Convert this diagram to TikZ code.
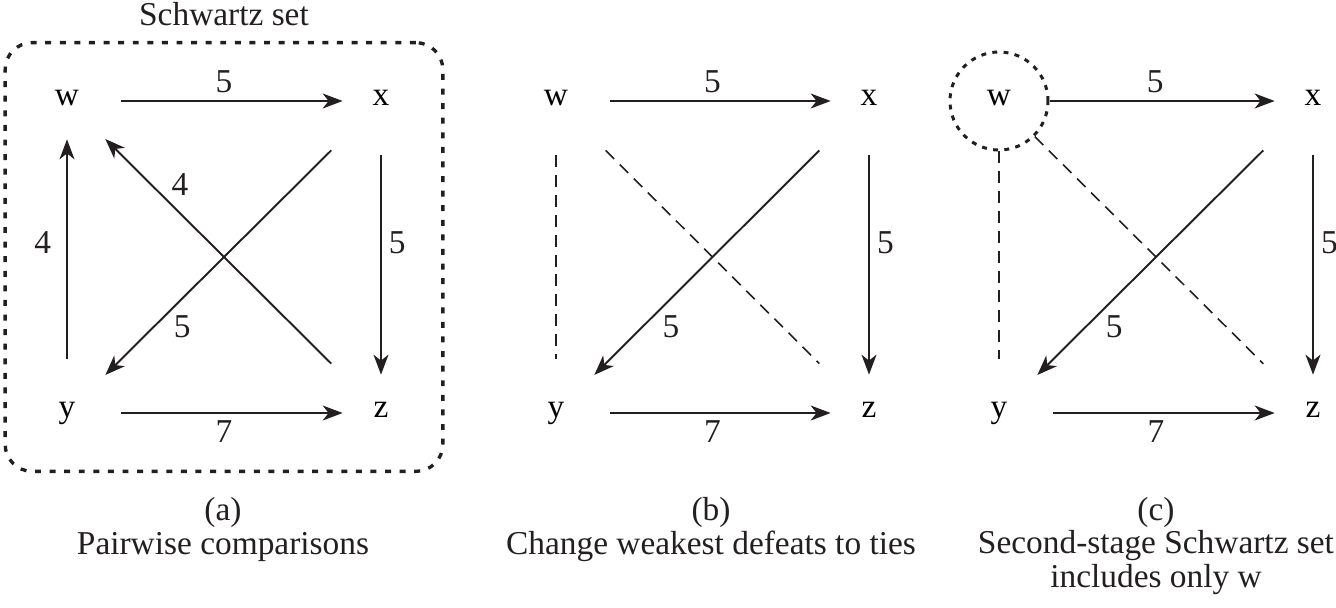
\documentclass[tikz,border=0pt]{standalone}
\usepackage{fontspec}
\setmainfont{Liberation Serif}
\usepackage{tikz}
\usetikzlibrary{arrows.meta,positioning,fit}
\definecolor{cink}{HTML}{231F20}
\tikzset{>={Stealth[length=0.4cm,width=0.3cm,inset=0.12cm]},
  vtx/.style={rectangle,minimum size=1.52cm,inner sep=0pt,text height=1ex,text depth=0pt},
  pick/.style={circle,draw=cink,line width=1.7pt,dash pattern=on 2.8pt off 3.6pt,minimum size=1.96cm},
  arr/.style={->,cink,line width=1.1pt,shorten <=0.32cm},
  tie/.style={cink,line width=0.9pt,dash pattern=on 6.8pt off 4.5pt,shorten <=0.32cm,shorten >=0.32cm},
  lbl/.style={inner sep=4pt,text=cink},
  setbox/.style={draw=cink,line width=1.9pt,dash pattern=on 3.4pt off 4.9pt,rounded corners=0.54cm},
  captxt/.style={align=center,anchor=base,text=cink}}
\begin{document}
\begin{tikzpicture}[font=\fontsize{19}{19}\selectfont]
\useasboundingbox (0,0) rectangle (26.72,12.14);
\def\yt{10.12} \def\yb{3.88}

% ================= (a) pairwise comparisons =================
\node[vtx] (wa) at (1.34,\yt) {w};
\node[vtx] (xa) at (7.62,\yt) {x};
\node[vtx] (ya) at (1.34,\yb) {y};
\node[vtx] (za) at (7.62,\yb) {z};
\draw[arr] (wa) -- node[lbl,above] {5} (xa);
\draw[arr] (xa) -- node[lbl,pos=.44,right] {5} (za);
\draw[arr] (ya) -- node[lbl,pos=.56,left=4.5pt] {4} (wa);
\draw[arr] (za) -- node[lbl,pos=.74,above right,inner sep=2pt] {4} (wa);
\draw[arr] (xa) -- node[lbl,pos=.73,below right,inner sep=2pt] {5} (ya);
\draw[arr] (ya) -- node[lbl,below] {7} (za);
\node[setbox,fit=(wa)(xa)(ya)(za),inner xsep=0.47cm,inner ysep=0.40cm,
  label={[label distance=0.17cm,text=cink]above:Schwartz set}] (sset) {};
\node[captxt] (capa) at (4.46,1.06) {(a)\\Pairwise comparisons};

% ================= (b) weakest defeats become ties =================
\node[vtx] (wb) at (11.12,\yt) {w};
\node[vtx] (xb) at (17.38,\yt) {x};
\node[vtx] (yb) at (11.12,\yb) {y};
\node[vtx] (zb) at (17.38,\yb) {z};
\draw[arr] (wb) -- node[lbl,above] {5} (xb);
\draw[arr] (xb) -- node[lbl,pos=.44,right] {5} (zb);
\draw[tie] (wb) -- (yb);
\draw[tie] (wb) -- (zb);
\draw[arr] (xb) -- node[lbl,pos=.73,below right,inner sep=2pt] {5} (yb);
\draw[arr] (yb) -- node[lbl,below] {7} (zb);
\node[captxt] (capb) at (14.22,1.06) {(b)\\Change weakest defeats to ties};

% ================= (c) second stage =================
\node[vtx,pick] (wc) at (19.98,\yt) {w};
\node[vtx] (xc) at (26.26,\yt) {x};
\node[vtx] (yc) at (19.98,\yb) {y};
\node[vtx] (zc) at (26.26,\yb) {z};
\draw[arr,shorten <=0pt] (wc) -- node[lbl,pos=.47,above] {5} (xc);
\draw[arr] (xc) -- node[lbl,pos=.44,right] {5} (zc);
\draw[tie,shorten <=0pt] (wc) -- (yc);
\draw[tie,shorten <=0pt] (wc) -- (zc);
\draw[arr] (xc) -- node[lbl,pos=.73,below right,inner sep=2pt] {5} (yc);
\draw[arr] (yc) -- node[lbl,below] {7} (zc);
\node[captxt] (capc) at (23.12,0.40) {(c)\\Second-stage Schwartz set\\includes only w};

\end{tikzpicture}
\end{document}
